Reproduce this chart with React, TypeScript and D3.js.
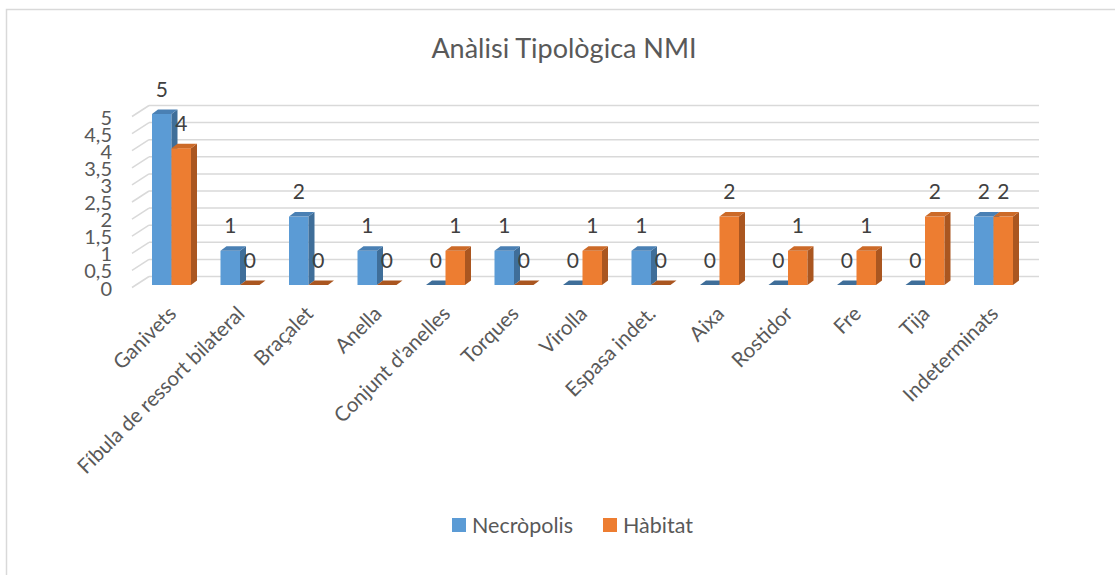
import React from "react";
import * as d3 from "d3";

const title = "Anàlisi Tipològica NMI";
const categories = [
  "Ganivets",
  "Fíbula de ressort bilateral",
  "Braçalet",
  "Anella",
  "Conjunt d'anelles",
  "Torques",
  "Virolla",
  "Espasa indet.",
  "Aixa",
  "Rostidor",
  "Fre",
  "Tija",
  "Indeterminats",
];
const seriesNames = ["Necròpolis", "Hàbitat"];
const necropolis = [5, 1, 2, 1, 0, 1, 0, 1, 0, 0, 0, 0, 2];
const habitat = [4, 0, 0, 0, 1, 0, 1, 0, 2, 1, 1, 2, 2];
const yTickValues = [0, 0.5, 1, 1.5, 2, 2.5, 3, 3.5, 4, 4.5, 5];
const yTickLabels = ["0", "0,5", "1", "1,5", "2", "2,5", "3", "3,5", "4", "4,5", "5"];

const FONT = "Lato, 'Open Sans', sans-serif";
const TXT = "#595959";
const GRID = "#d9d9d9";

const colors = [
  { front: "#5B9BD5", top: "#4A80B4", side: "#3F6E99" },
  { front: "#ED7D31", top: "#CC6A28", side: "#AA5620" },
];

export default function App() {
  const W = 1115;
  const H = 575;
  const x = d3.scaleBand<string>().domain(categories).range([137.25, 1027.75]);
  const xs = d3.scaleBand<string>().domain(seriesNames).range([-19.5, 19.5]);
  const yFront = d3.scaleLinear().domain([0, 5]).range([285, 114]);
  const yBack = d3.scaleLinear().domain([0, 5]).range([276.5, 105.5]);
  const DX = 6;
  const DY = -4.5;
  const series = [necropolis, habitat];

  const bars: React.ReactNode[] = [];
  const labels: React.ReactNode[] = [];
  categories.forEach((c, i) => {
    const cx = (x(c) as number) + x.bandwidth() / 2;
    series.forEach((vals, s) => {
      const v = vals[i];
      const x0 = cx + (xs(seriesNames[s]) as number);
      const w = xs.bandwidth();
      const x1 = x0 + w;
      const yb = yFront(0);
      const yt = yFront(v);
      const col = colors[s];
      const key = `${i}-${s}`;
      if (v > 0) {
        bars.push(
          <g key={key}>
            <rect x={x0} y={yt} width={w} height={yb - yt} fill={col.front} />
            <path
              d={`M${x1},${yt}L${x1 + DX},${yt + DY}L${x1 + DX},${yb + DY}L${x1},${yb}Z`}
              fill={col.side}
            />
            <path
              d={`M${x0},${yt}L${x0 + DX},${yt + DY}L${x1 + DX},${yt + DY}L${x1},${yt}Z`}
              fill={col.top}
            />
          </g>
        );
      } else {
        bars.push(
          <path
            key={key}
            d={`M${x0},${yb}L${x0 + DX},${yb + DY}L${x1 + DX},${yb + DY}L${x1},${yb}Z`}
            fill={col.side}
          />
        );
      }
      labels.push(
        <text
          key={"l" + key}
          x={x0 + w / 2}
          y={yt - 25 + 7.5}
          textAnchor="middle"
          fontSize={21}
          fill="#404040"
          fontFamily={FONT}
        >
          {v}
        </text>
      );
    });
  });

  return (
    <svg
      width={W}
      height={H}
      style={{ position: "absolute", left: 0, top: 0, background: "#fff" }}
    >
      <path d={`M6.5,${H + 10}L6.5,9.5L${W + 10},9.5`} fill="none" stroke={GRID} strokeWidth={1.5} />
      <text x={564} y={58} textAnchor="middle" fontSize={27} fill={TXT} fontFamily={FONT}>
        {title}
      </text>
      {yTickValues.map((v, i) => (
        <g key={"g" + i}>
          <line x1={149} x2={1039} y1={yBack(v)} y2={yBack(v)} stroke={GRID} strokeWidth={1.5} />
          <line x1={132} x2={149} y1={yBack(v) + 11} y2={yBack(v)} stroke={GRID} strokeWidth={1.5} />
          <text
            x={112}
            y={yBack(v) + 12 + 7}
            textAnchor="end"
            fontSize={20}
            fill={TXT}
            fontFamily={FONT}
          >
            {yTickLabels[i]}
          </text>
        </g>
      ))}
      {bars}
      {labels}
      {categories.map((c) => {
        const cx = (x(c) as number) + x.bandwidth() / 2;
        const px = cx + 6;
        const py = 315;
        return (
          <text
            key={"c" + c}
            x={px}
            y={py}
            textAnchor="end"
            fontSize={20.5}
            fill={TXT}
            fontFamily={FONT}
            transform={`rotate(-45 ${px} ${py})`}
          >
            {c}
          </text>
        );
      })}
      {seriesNames.map((n, i) => {
        const lx = [452, 603][i];
        return (
          <g key={"lg" + n}>
            <rect x={lx} y={518} width={14} height={14} fill={colors[i].front} />
            <text x={lx + 20} y={532.5} fontSize={21.5} fill={TXT} fontFamily={FONT}>
              {n}
            </text>
          </g>
        );
      })}
    </svg>
  );
}
